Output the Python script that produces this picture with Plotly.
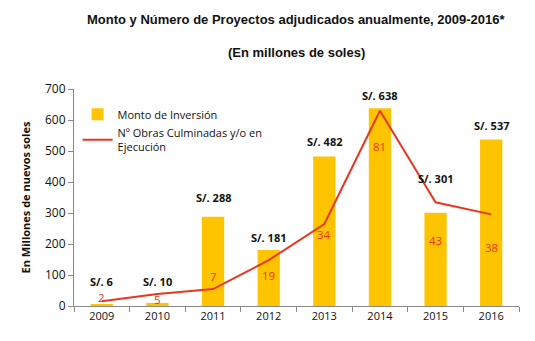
import plotly.graph_objects as go

years = ["2009", "2010", "2011", "2012", "2013", "2014", "2015", "2016"]
monto = [6, 10, 288, 181, 482, 638, 301, 537]
obras = [2, 5, 7, 19, 34, 81, 43, 38]
monto_labels = ["S/. " + str(v) for v in monto]
obras_labels = [str(v) for v in obras]

# label offsets (px), style only
monto_shift = [23, 21, 19, 12, 15, 13, 34, 14]
obras_shift = [4, -6, 13, -15, -10, -36, -38, -33]

BAR = "#FFC400"
RED = "#E8371F"
FONT = "Open Sans"

fig = go.Figure()
fig.add_trace(go.Bar(x=years, y=monto, name="Monto de Inversión",
                     marker=dict(color=BAR, line=dict(width=0)), width=0.4))
fig.add_trace(go.Scatter(x=years, y=obras, yaxis="y2", mode="lines",
                         name="Nº Obras Culminadas y/o en<br>Ejecución",
                         line=dict(color=RED, width=2)))

for i, (v, t, s) in enumerate(zip(monto, monto_labels, monto_shift)):
    fig.add_annotation(x=i, y=v, xref="x", yref="y", text="<b>" + t + "</b>",
                       showarrow=False, yshift=s,
                       font=dict(family=FONT, size=11, color="#111111"))
for i, (v, t, s) in enumerate(zip(obras, obras_labels, obras_shift)):
    fig.add_annotation(x=i, y=v, xref="x", yref="y2", text=t, showarrow=False, yshift=s,
                       font=dict(family=FONT, size=11.5, color=RED))

fig.add_annotation(x=0.5, y=1, xref="paper", yref="paper", xanchor="center",
                   yanchor="middle", yshift=70, showarrow=False,
                   text="<b>Monto y Número de Proyectos adjudicados anualmente, 2009-2016*</b>",
                   font=dict(family="Liberation Sans", size=13, color="#111111"))
fig.add_annotation(x=0.5, y=1, xref="paper", yref="paper", xanchor="center",
                   yanchor="middle", yshift=37, showarrow=False,
                   text="<b>(En millones de soles)</b>",
                   font=dict(family="Liberation Sans", size=13, color="#111111"))

fig.update_layout(
    width=535, height=341,
    margin=dict(l=74, r=16, t=89, b=35),
    paper_bgcolor="white", plot_bgcolor="white",
    showlegend=True,
    legend=dict(x=0.008, y=0.95, xanchor="left", yanchor="top",
                bgcolor="rgba(0,0,0,0)", tracegroupgap=14,
                font=dict(family=FONT, size=11, color="#111111"),
                itemwidth=30),
    xaxis=dict(type="category", range=[-0.5, len(years) - 0.5],
               showline=True, linecolor="#888888", linewidth=1,
               ticks="outside", tickson="boundaries", ticklen=5, tickcolor="#888888",
               tickfont=dict(family=FONT, size=11, color="#111111"),
               showgrid=False),
    yaxis=dict(range=[0, 700], dtick=100, showline=True, linecolor="#888888",
               linewidth=1, ticks="outside", ticklen=5, tickcolor="#888888",
               tickfont=dict(family=FONT, size=12, color="#111111"),
               showgrid=False, zeroline=False,
               title=dict(text="<b>En Millones de nuevos soles</b>",
                          font=dict(family=FONT, size=11, color="#111111"),
                          standoff=12)),
    yaxis2=dict(range=[0, 90], overlaying="y", side="right", visible=False,
                showgrid=False, zeroline=False),
)

fig.write_html("out.html")
